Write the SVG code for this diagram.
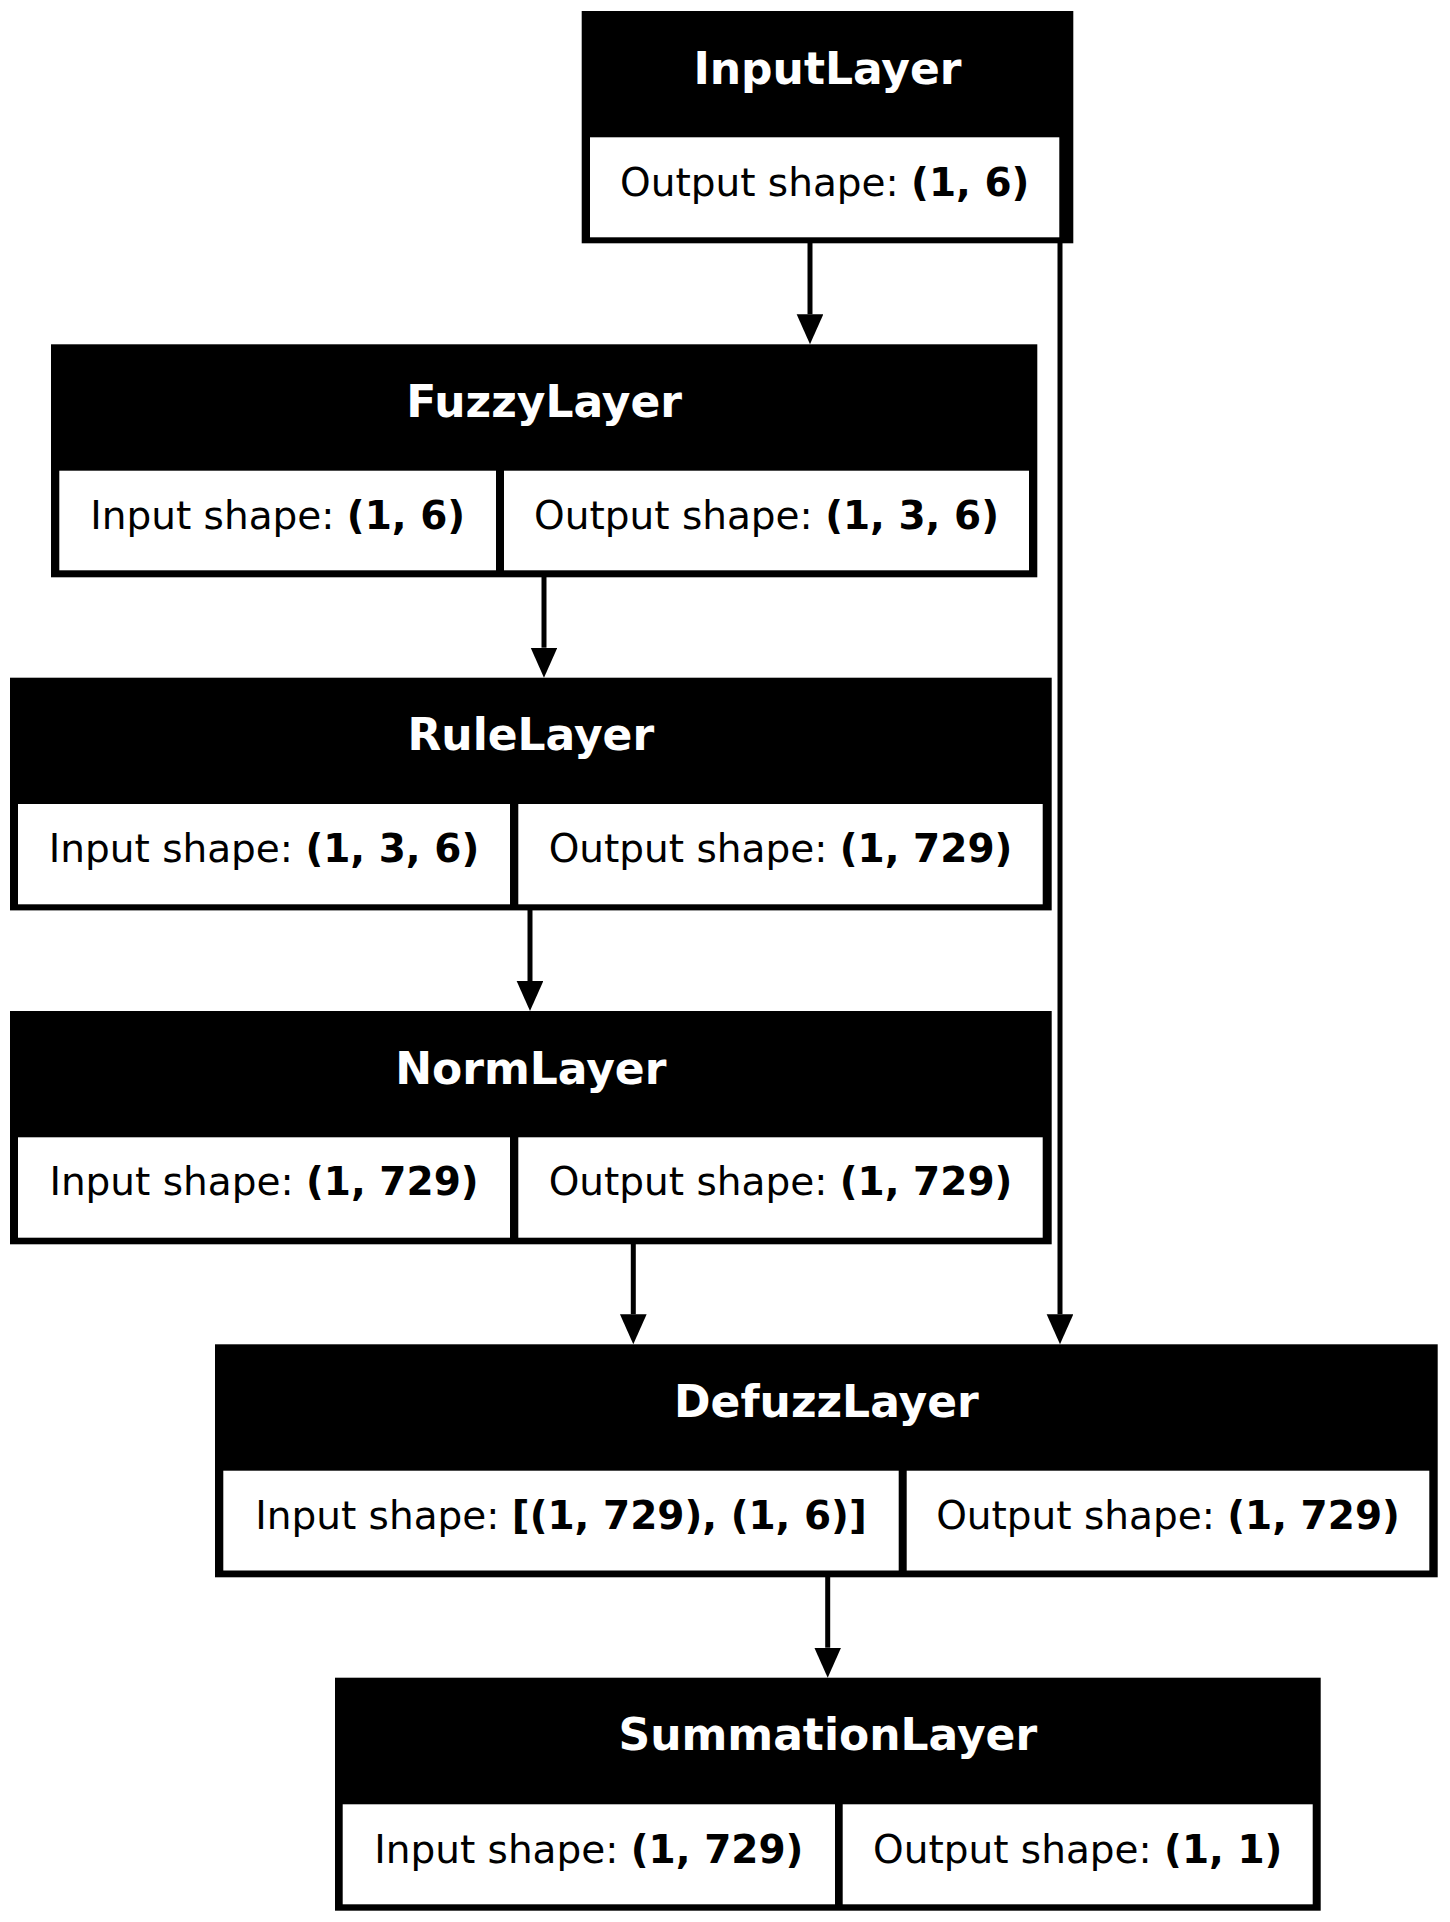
<svg xmlns="http://www.w3.org/2000/svg" width="1450" height="1922" viewBox="0 0 1450 1922">
<style>
.outer{fill:#000}
.cell{fill:#fff}
.title{font-family:"DejaVu Sans",sans-serif;font-weight:bold;font-size:44px;fill:#fff;text-anchor:middle}
.txt{font-family:"DejaVu Sans",sans-serif;font-size:39px;fill:#000;text-anchor:middle}
.b{font-weight:bold}
.edge{stroke:#000;stroke-width:5;fill:none}
</style>
<defs>
<marker id="arr" markerUnits="userSpaceOnUse" markerWidth="31" markerHeight="28" refX="0" refY="13.35" orient="auto" viewBox="0 0 31 28">
<path d="M0,0 L30,13.35 L0,26.7 z" fill="#000"/>
</marker>
</defs>
<rect width="1450" height="1922" fill="#fff"/>
<g id="connectors">
<line class="edge" x1="810" y1="243" x2="810" y2="314.3" marker-end="url(#arr)"/>
<line class="edge" x1="1060" y1="243" x2="1060" y2="1314.3" marker-end="url(#arr)"/>
<line class="edge" x1="544" y1="577" x2="544" y2="647.7" marker-end="url(#arr)"/>
<line class="edge" x1="530" y1="910" x2="530" y2="981" marker-end="url(#arr)"/>
<line class="edge" x1="633.3" y1="1244" x2="633.3" y2="1314.3" marker-end="url(#arr)"/>
<line class="edge" x1="827.7" y1="1577" x2="827.7" y2="1647.7" marker-end="url(#arr)"/>
</g>
<g id="InputLayer">
<rect class="outer" x="581.7" y="11" width="491.6" height="232.3"/>
<rect class="cell" x="590" y="137.3" width="469.3" height="100"/>
<text class="title" x="827.5" y="83.5">InputLayer</text>
<text class="txt" x="824.7" y="195.5">Output shape: <tspan class="b">(1, 6)</tspan></text>
</g>
<g id="FuzzyLayer">
<rect class="outer" x="51" y="344.3" width="986.3" height="233"/>
<rect class="cell" x="59.3" y="470.7" width="436.7" height="99.6"/>
<rect class="cell" x="504" y="470.7" width="525" height="99.6"/>
<text class="title" x="544.2" y="417">FuzzyLayer</text>
<text class="txt" x="277.7" y="529">Input shape: <tspan class="b">(1, 6)</tspan></text>
<text class="txt" x="766.5" y="529">Output shape: <tspan class="b">(1, 3, 6)</tspan></text>
</g>
<g id="RuleLayer">
<rect class="outer" x="10" y="677.7" width="1041.7" height="232.7"/>
<rect class="cell" x="18" y="804" width="492" height="100.3"/>
<rect class="cell" x="518.3" y="804" width="524.4" height="100.3"/>
<text class="title" x="530.8" y="750.3">RuleLayer</text>
<text class="txt" x="264" y="862.3">Input shape: <tspan class="b">(1, 3, 6)</tspan></text>
<text class="txt" x="780.5" y="862.3">Output shape: <tspan class="b">(1, 729)</tspan></text>
</g>
<g id="NormLayer">
<rect class="outer" x="10" y="1011" width="1041.7" height="233.3"/>
<rect class="cell" x="18" y="1137.3" width="492" height="100.4"/>
<rect class="cell" x="518.3" y="1137.3" width="524.4" height="100.4"/>
<text class="title" x="530.8" y="1083.5">NormLayer</text>
<text class="txt" x="264" y="1195">Input shape: <tspan class="b">(1, 729)</tspan></text>
<text class="txt" x="780.5" y="1195">Output shape: <tspan class="b">(1, 729)</tspan></text>
</g>
<g id="DefuzzLayer">
<rect class="outer" x="215" y="1344.3" width="1222.7" height="233"/>
<rect class="cell" x="223.3" y="1470.7" width="675.4" height="99.8"/>
<rect class="cell" x="906.7" y="1470.7" width="522.6" height="99.8"/>
<text class="title" x="826.4" y="1417">DefuzzLayer</text>
<text class="txt" x="561" y="1528.5">Input shape: <tspan class="b">[(1, 729), (1, 6)]</tspan></text>
<text class="txt" x="1168" y="1528.5">Output shape: <tspan class="b">(1, 729)</tspan></text>
</g>
<g id="SummationLayer">
<rect class="outer" x="335" y="1677.7" width="985.7" height="233"/>
<rect class="cell" x="342.7" y="1804.3" width="492.3" height="100"/>
<rect class="cell" x="842.7" y="1804.3" width="470" height="100"/>
<text class="title" x="827.8" y="1750.3">SummationLayer</text>
<text class="txt" x="588.8" y="1862.5">Input shape: <tspan class="b">(1, 729)</tspan></text>
<text class="txt" x="1077.7" y="1862.5">Output shape: <tspan class="b">(1, 1)</tspan></text>
</g>
</svg>
